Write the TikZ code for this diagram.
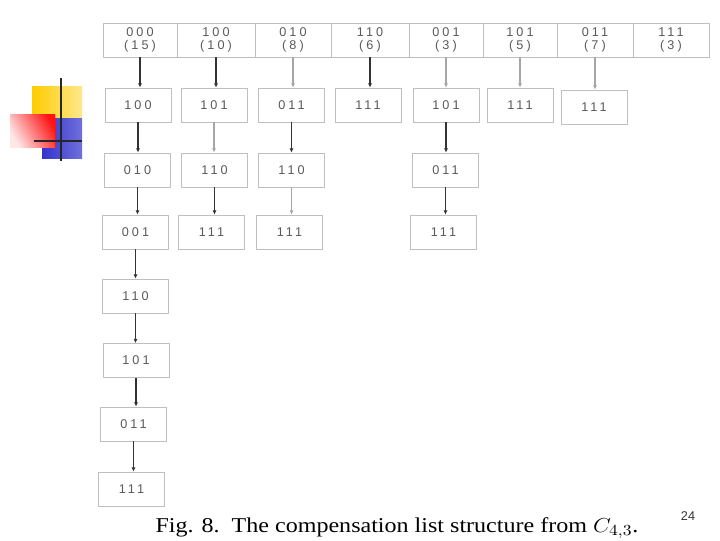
\documentclass[tikz,border=0pt]{standalone}
\usepackage{fontspec}
\setmainfont{Liberation Serif}
\setsansfont{Liberation Sans}
\newfontfamily\cellfont[LetterSpace=24]{Liberation Sans}
\usetikzlibrary{arrows.meta, positioning}

\definecolor{logoyellow}{RGB}{255,204,0}
\definecolor{logoblue}{RGB}{51,51,204}
\definecolor{logored}{RGB}{255,20,20}

\begin{document}
\begin{tikzpicture}[
  x=0.025cm, y=-0.025cm,
  cell/.style={
    rectangle, draw=gray!50, line width=0.6pt,
    minimum width=1.65cm, minimum height=0.85cm,
    font=\cellfont\fontsize{9}{10}\selectfont, text=black!65, inner sep=0pt
  },
  hdr/.style={
    cell, minimum height=0.85cm, align=center,
    font=\cellfont\fontsize{9}{8.8}\selectfont
  },
  arrow/.style={-{Latex[length=3pt,width=3pt]}, line width=0.8pt, black!80},
  garrow/.style={arrow, gray!70}
]
\useasboundingbox (0,0) rectangle (720,540);

% --- logo ---
\shade[left color=logoyellow, right color=logoyellow!45] (32,86) rectangle (82,118);
\shade[left color=logoblue, right color=logoblue!70] (42,118) rectangle (82,158);
\shade[left color=logored!10, right color=logored, shading angle=120] (10,114) rectangle (55,147);
\draw[line width=1.6pt, black!85] (61,78) -- (61,161);
\draw[line width=1.6pt, black!85] (34,141) -- (82,141);

% --- header row ---
\node[hdr, minimum width=1.85cm] (h1) at (140,40)   {000\\(15)};
\node[hdr, minimum width=1.95cm] (h2) at (216,40)   {100\\(10)};
\node[hdr, minimum width=1.90cm] (h3) at (293,40)   {010\\(8)};
\node[hdr, minimum width=1.95cm] (h4) at (370,40)   {110\\(6)};
\node[hdr, minimum width=1.85cm] (h5) at (446,40)   {001\\(3)};
\node[hdr, minimum width=1.85cm] (h6) at (520,40)   {101\\(5)};
\node[hdr, minimum width=1.90cm] (h7) at (595,40)   {011\\(7)};
\node[hdr, minimum width=1.90cm] (h8) at (671,40)   {111\\(3)};

% --- row 1 ---
\node[cell] (a1) at (138,105)   {100};
\node[cell] (a2) at (214,105)   {101};
\node[cell] (a3) at (291.5,105) {011};
\node[cell] (a4) at (368,105)   {111};
\node[cell] (a5) at (446,105)   {101};
\node[cell] (a6) at (520,105)   {111};
\node[cell] (a7) at (594,107)   {111};

% --- row 2 ---
\node[cell] (b1) at (137.5,170) {010};
\node[cell] (b2) at (214.5,170) {110};
\node[cell] (b3) at (291.5,170) {110};
\node[cell] (b5) at (445.5,170) {011};

% --- row 3 ---
\node[cell] (c1) at (135.5,232) {001};
\node[cell] (c2) at (211.5,232) {111};
\node[cell] (c3) at (289.5,232) {111};
\node[cell] (c5) at (443.5,232) {111};

% --- first column continues ---
\node[cell] (d1) at (135.5,296) {110};
\node[cell] (e1) at (136,360.5) {101};
\node[cell] (f1) at (133.5,424) {011};
\node[cell] (g1) at (131.5,489) {111};

% Arrows
\draw[arrow]  (h1.south) -- (h1.south |- a1.north);
\draw[arrow]  (h2.south) -- (h2.south |- a2.north);
\draw[garrow] (h3.south) -- (h3.south |- a3.north);
\draw[arrow]  (h4.south) -- (h4.south |- a4.north);
\draw[garrow] (h5.south) -- (h5.south |- a5.north);
\draw[garrow] (h6.south) -- (h6.south |- a6.north);
\draw[garrow] (h7.south) -- (h7.south |- a7.north);
\draw[arrow]  (a1.south) -- (a1.south |- b1.north);
\draw[garrow] (a2.south) -- (a2.south |- b2.north);
\draw[arrow]  (a3.south) -- (a3.south |- b3.north);
\draw[arrow]  (a5.south) -- (a5.south |- b5.north);
\draw[arrow]  (b1.south) -- (b1.south |- c1.north);
\draw[arrow]  (b2.south) -- (b2.south |- c2.north);
\draw[garrow] (b3.south) -- (b3.south |- c3.north);
\draw[arrow]  (b5.south) -- (b5.south |- c5.north);
\draw[arrow]  (c1.south) -- (c1.south |- d1.north);
\draw[arrow]  (d1.south) -- (d1.south |- e1.north);
\draw[arrow]  (e1.south) -- (e1.south |- f1.north);
\draw[arrow]  (f1.south) -- (f1.south |- g1.north);

% caption and page number
\node[font=\fontsize{15}{17}\selectfont, xscale=1.14] (cap) at (397,528)
  {Fig. 8.\ \ The compensation list structure from $C_{4,3}$.};
\node[font=\sffamily\fontsize{9}{10}\selectfont, text=black!80] (pg) at (688,516) {24};

\end{tikzpicture}
\end{document}
